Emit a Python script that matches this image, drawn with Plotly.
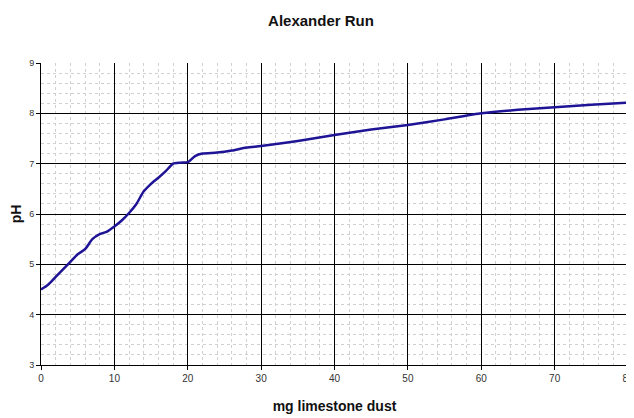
import plotly.graph_objects as go

mg_dust = [0, 1, 2, 3, 4, 5, 6, 7, 8, 9, 10, 11, 12, 13, 14, 15, 16, 17, 18, 19, 20,
           21, 22, 24, 26, 28, 30, 35, 40, 45, 50, 55, 60, 65, 70, 75, 80]
ph_values = [4.5, 4.6, 4.75, 4.9, 5.05, 5.2, 5.3, 5.5, 5.6, 5.65, 5.75, 5.87, 6.02, 6.2, 6.45,
             6.6, 6.72, 6.85, 7.0, 7.02, 7.03, 7.15, 7.2, 7.22, 7.26, 7.32, 7.35, 7.45,
             7.57, 7.68, 7.77, 7.88, 8.0, 8.07, 8.12, 8.17, 8.21]

title_text = "Alexander Run"
x_title = "mg limestone dust"
y_title = "pH"

fig = go.Figure(go.Scatter(
    x=mg_dust, y=ph_values, mode="lines",
    line=dict(color="#1f1496", width=2.5, shape="spline", smoothing=0.6),
    showlegend=False,
))

fig.update_layout(
    width=626, height=410,
    margin=dict(l=33, r=6, t=55, b=53, autoexpand=False),
    paper_bgcolor="white", plot_bgcolor="white",
    font=dict(family="Liberation Sans, Arial, sans-serif", color="#222"),
    title=dict(text=f"<b>{title_text}</b>", x=0.5, xanchor="center", y=0.97, yanchor="middle",
               font=dict(size=15, color="#111")),
    xaxis=dict(
        range=[0, 80], dtick=10, tick0=0, automargin=False,
        showgrid=True, gridcolor="#000", gridwidth=1,
        minor=dict(dtick=2, showgrid=True, gridcolor="#d0d0d0", griddash="3px,3px", gridwidth=1),
        showline=True, linecolor="#000", linewidth=1, mirror=False,
        ticks="outside", ticklen=4, tickcolor="#000",
        tickfont=dict(size=10, color="#333"),
        title=dict(text=f"<b>{x_title}</b>", font=dict(size=14, color="#111"), standoff=18),
        zeroline=False,
    ),
    yaxis=dict(
        range=[3, 9], dtick=1, tick0=3, automargin=False,
        showgrid=True, gridcolor="#000", gridwidth=1,
        minor=dict(dtick=0.2, showgrid=True, gridcolor="#d0d0d0", griddash="3px,3px", gridwidth=1),
        showline=True, linecolor="#000", linewidth=1,
        ticks="outside", ticklen=4, tickcolor="#000",
        tickfont=dict(size=9, color="#333"),
        title=dict(text=f"<b>{y_title}</b>", font=dict(size=14, color="#111"), standoff=6),
        zeroline=False,
    ),
    shapes=[dict(type="line", xref="paper", yref="paper", x0=1, x1=1, y0=0, y1=1,
                 line=dict(color="#888", width=2))],
)

fig.write_html("out.html")
